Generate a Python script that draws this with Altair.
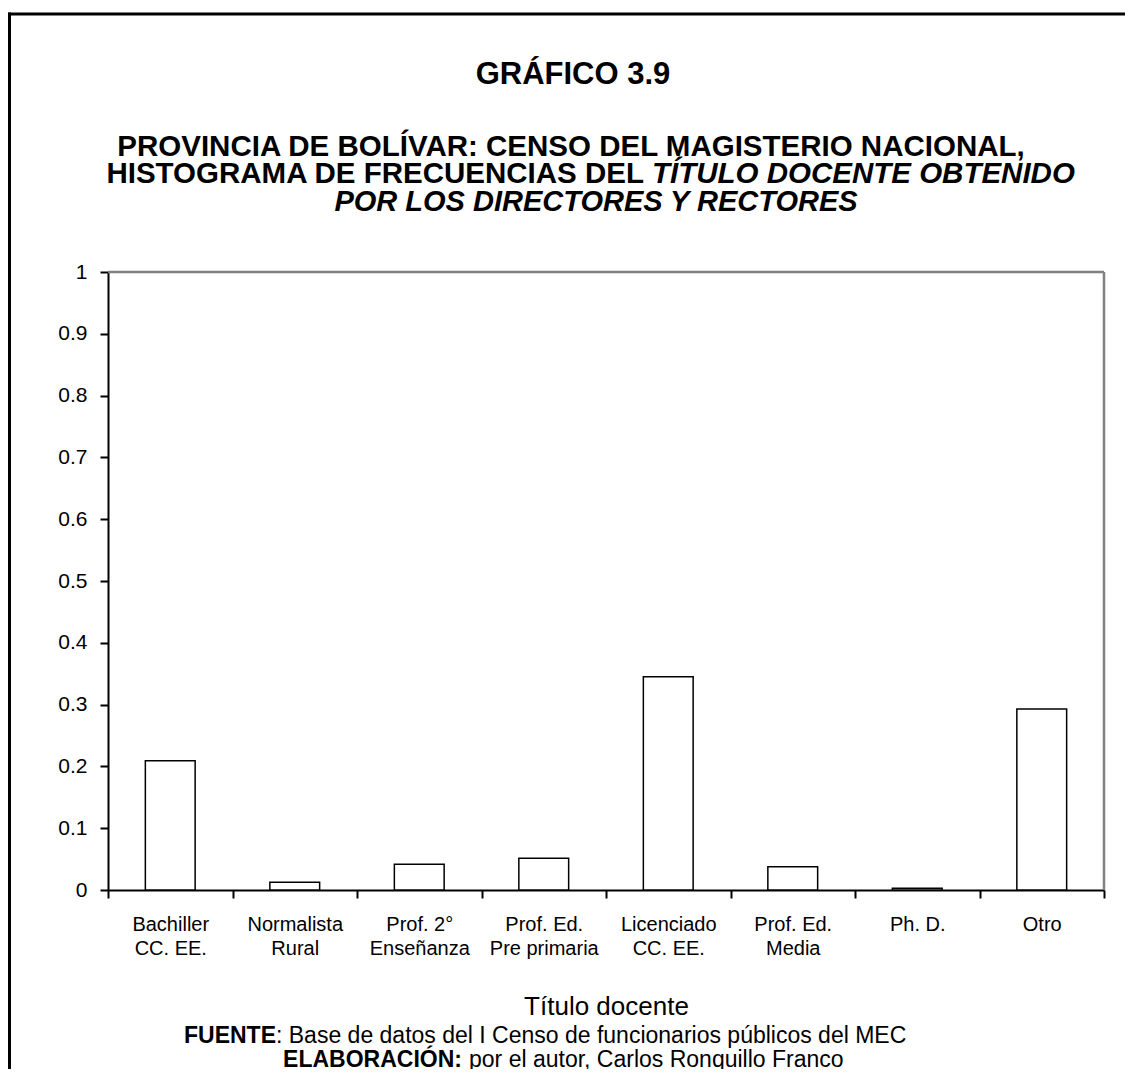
import altair as alt
import pandas as pd

# ---------------- data ----------------
categories = [
    "Bachiller|CC. EE.",
    "Normalista|Rural",
    "Prof. 2°|Enseñanza",
    "Prof. Ed.|Pre primaria",
    "Licenciado|CC. EE.",
    "Prof. Ed.|Media",
    "Ph. D.",
    "Otro",
]
frequencies = [0.209, 0.0125, 0.0416, 0.0513, 0.345, 0.0377, 0.003, 0.293]
y_ticks = [0, 0.1, 0.2, 0.3, 0.4, 0.5, 0.6, 0.7, 0.8, 0.9, 1]

title_main = "GRÁFICO 3.9"
subtitle_1 = "PROVINCIA DE BOLÍVAR: CENSO DEL MAGISTERIO NACIONAL,"
subtitle_2a = "HISTOGRAMA DE FRECUENCIAS DEL"
subtitle_2b = "TÍTULO DOCENTE OBTENIDO"
subtitle_3 = "POR LOS DIRECTORES Y RECTORES"
x_title = "Título docente"
foot_1a = "FUENTE"
foot_1b = ": Base de datos del I Censo de funcionarios públicos del MEC"
foot_2a = "ELABORACIÓN:"
foot_2b = "por el autor, Carlos Ronquillo Franco"

FONT = "Liberation Sans"
W, H = 996, 618

df = pd.DataFrame({"titulo": categories, "freq": frequencies})
one = pd.DataFrame({"k": [0]})

bars = alt.Chart(df).mark_bar(
    fill="white", stroke="black", strokeWidth=1.5, width=alt.RelativeBandSize(0.4)
).encode(
    x=alt.X(
        "titulo:N",
        sort=categories,
        scale=alt.Scale(paddingInner=0, paddingOuter=0),
        axis=alt.Axis(
            title=x_title,
            titleFont=FONT,
            titleFontSize=26,
            titleFontWeight="normal",
            titleColor="black",
            titlePadding=35,
            labelExpr="datum.value ? split(datum.value, '|') : ''",
            labelAngle=0,
            labelFont=FONT,
            labelFontSize=20,
            labelColor="black",
            labelLineHeight=24,
            labelPadding=16,
            tickBand="extent",
            tickSize=8,
            tickColor="black",
            tickWidth=2,
            domainColor="black",
            domainWidth=2,
        ),
    ),
    y=alt.Y(
        "freq:Q",
        scale=alt.Scale(domain=[0, 1], nice=False),
        axis=alt.Axis(
            title=None,
            values=y_ticks,
            format="~g",
            labelFont=FONT,
            labelFontSize=21,
            labelColor="black",
            labelPadding=13,
            tickSize=8,
            tickColor="black",
            tickWidth=2,
            domainColor="black",
            domainWidth=2,
            grid=False,
        ),
    ),
)


def txt(text, x, y, size, weight="bold", style="normal", align="center"):
    return alt.Chart(one).mark_text(
        text=text,
        font=FONT,
        fontSize=size,
        fontWeight=weight,
        fontStyle=style,
        align=align,
        baseline="middle",
        color="black",
    ).encode(x=alt.value(x), y=alt.value(y))


texts = [
    txt(title_main, 465, -197, 31),
    txt(subtitle_1, 463, -125, 29.5),
    txt(subtitle_2a, 536, -98, 29.5, align="right"),
    txt(subtitle_2b, 544, -98, 29.5, style="italic", align="left"),
    txt(subtitle_3, 488, -70, 29, style="italic"),
    txt(foot_1a, 168, 764, 23, align="right"),
    txt(foot_1b, 168, 764, 23, weight="normal", align="left"),
    txt(foot_2a, 354, 788, 23, align="right"),
    txt(foot_2b, 361, 788, 23, weight="normal", align="left"),
]

frame_top = alt.Chart(one).mark_rule(color="#808080", strokeWidth=2.5).encode(
    x=alt.value(0), x2=alt.value(W), y=alt.value(0)
)
frame_right = alt.Chart(one).mark_rule(color="#808080", strokeWidth=2.5).encode(
    x=alt.value(W), y=alt.value(0), y2=alt.value(H)
)
border_top = alt.Chart(one).mark_rule(color="black", strokeWidth=3).encode(
    x=alt.value(-100), x2=alt.value(1100), y=alt.value(-258)
)
border_left = alt.Chart(one).mark_rule(color="black", strokeWidth=3).encode(
    x=alt.value(-98.5), y=alt.value(-259.5), y2=alt.value(900)
)

chart = (
    alt.layer(frame_top, frame_right, bars, border_top, border_left, *texts)
    .properties(
        width=W,
        height=H,
        autosize=alt.AutoSizeParams(type="none"),
        padding={"left": 100, "top": 264, "right": 21, "bottom": 179},
    )
    .configure_view(stroke=None)
    .configure(background="white")
)

chart.save("out.html", embed_options={"renderer": "svg", "actions": False})
